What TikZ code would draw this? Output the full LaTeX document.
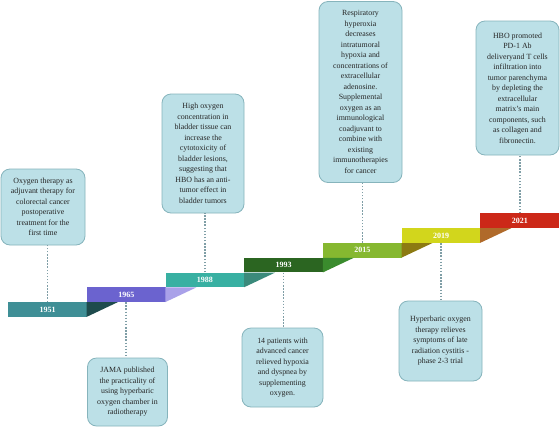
\documentclass[tikz,border=0pt]{standalone}
\usepackage{fontspec}
\setmainfont{Liberation Serif}
\begin{document}
\begin{tikzpicture}[x=1pt,y=-1pt,
  bar/.style={draw=none,minimum height=14.6pt,minimum width=78.7pt,inner sep=0pt,
    text=white,font=\bfseries\fontsize{8}{9}\selectfont},
  note/.style={draw=noteborder,fill=notefill,line width=0.8pt,rounded corners=9pt,
    inner sep=0pt,align=center,font=\fontsize{7.9}{10.5}\selectfont,text=black!85},
  link/.style={draw=linkcol,line width=1.6pt,dash pattern=on 1.5pt off 1.6pt}]
\definecolor{noteborder}{HTML}{86B4BC}
\definecolor{notefill}{HTML}{BCE0E7}
\definecolor{linkcol}{HTML}{7F9EA6}
\definecolor{ca}{HTML}{3F8F96}
\definecolor{cb}{HTML}{6B63CF}
\definecolor{cc}{HTML}{38B0A2}
\definecolor{cd}{HTML}{2B6521}
\definecolor{ce}{HTML}{86B830}
\definecolor{cf}{HTML}{D2D61C}
\definecolor{cg}{HTML}{CC2818}
\definecolor{tb}{HTML}{1E4B4D}
\definecolor{tc}{HTML}{A9A1E9}
\definecolor{td}{HTML}{3B8A7B}
\definecolor{te}{HTML}{3A8B2D}
\definecolor{tf}{HTML}{8C7A12}
\definecolor{tg}{HTML}{B06A2A}
\useasboundingbox (0,0) rectangle (560,432);
\fill[white] (0,0) rectangle (560,432);

% bars
\node[bar,fill=ca,anchor=north west] (y1) at (8,302) {1951};
\node[bar,fill=cb,anchor=north west] (y2) at (86.7,287.2) {1965};
\node[bar,fill=cc,anchor=north west] (y3) at (165.4,272.4) {1988};
\node[bar,fill=cd,anchor=north west] (y4) at (244.1,257.6) {1993};
\node[bar,fill=ce,anchor=north west] (y5) at (322.8,242.8) {2015};
\node[bar,fill=cf,anchor=north west] (y6) at (401.5,228) {2019};
\node[bar,fill=cg,anchor=north west] (y7) at (480.2,213.2) {2021};

% fold triangles
\foreach \n/\c in {2/tb,3/tc,4/td,5/te,6/tf,7/tg}{
  \fill[\c] (y\n.south west) -- ++(0,14.6) -- ++(0.1,0) -- ([xshift=31pt]y\n.south west) -- cycle;
}

% notes
\node[note,minimum width=84pt,minimum height=76pt] (n1) at (43,207)
 {Oxygen therapy as\\adjuvant therapy for\\colorectal cancer\\postoperative\\treatment for the\\first time};
\node[note,minimum width=80pt,minimum height=68pt] (n2) at (127.5,392)
 {JAMA published\\the practicality of\\using hyperbaric\\oxygen chamber in\\radiotherapy};
\node[note,minimum width=82pt,minimum height=119pt] (n3) at (203,153.5)
 {High oxygen\\concentration in\\bladder tissue can\\increase the\\cytotoxicity of\\bladder lesions,\\suggesting that\\HBO has an anti-\\tumor effect in\\bladder tumors};
\node[note,minimum width=81pt,minimum height=79pt] (n4) at (282.5,367.5)
 {14 patients with\\advanced cancer\\relieved hypoxia\\and dyspnea by\\supplementing\\oxygen.};
\node[note,minimum width=83pt,minimum height=181pt] (n5) at (360.5,92)
 {Respiratory\\hyperoxia\\decreases\\intratumoral\\hypoxia and\\concentrations of\\extracellular\\adenosine.\\Supplemental\\oxygen as an\\immunological\\coadjuvant to\\combine with\\existing\\immunotherapies\\for cancer};
\node[note,minimum width=83pt,minimum height=80pt] (n6) at (440.5,341)
 {Hyperbaric oxygen\\therapy relieves\\symptoms of late\\radiation cystitis -\\phase 2-3 trial};
\node[note,minimum width=83pt,minimum height=134pt] (n7) at (517.5,88)
 {HBO promoted\\PD-1 Ab\\deliveryand T cells\\infiltration into\\tumor parenchyma\\by depleting the\\extracellular\\matrix's main\\components, such\\as collagen and\\fibronectin.};

% links
\draw[link] (y1.north) -- (y1.north |- n1.south);
\draw[link] (y3.north) -- (y3.north |- n3.south);
\draw[link] (y5.north) -- (y5.north |- n5.south);
\draw[link] (y7.north) -- (y7.north |- n7.south);
\draw[link] (y2.south) -- (y2.south |- n2.north);
\draw[link] (y4.south) -- (y4.south |- n4.north);
\draw[link] (y6.south) -- (y6.south |- n6.north);
\end{tikzpicture}
\end{document}
